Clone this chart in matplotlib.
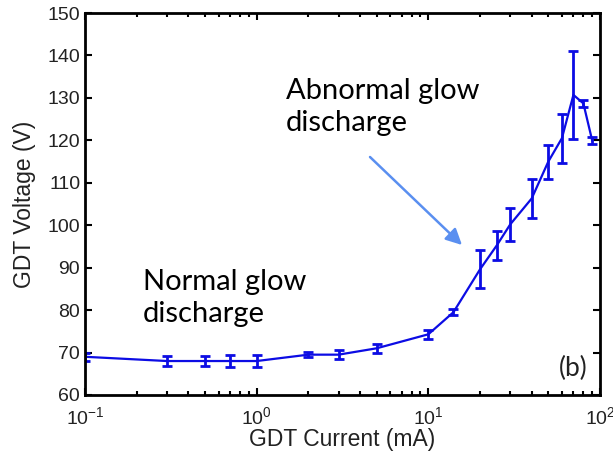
import matplotlib
matplotlib.use("Agg")
import matplotlib.pyplot as plt
import numpy as np

plt.rcParams['font.family'] = ['Liberation Sans', 'DejaVu Sans']
plt.rcParams['mathtext.fontset'] = 'custom'
plt.rcParams['mathtext.rm'] = 'Liberation Sans'
plt.rcParams['mathtext.it'] = 'Liberation Sans'

# GDT current (mA), mean voltage (V) and error half-width (V)
current_ma = [0.1, 0.3, 0.5, 0.7, 1.0, 2.0, 3.0, 5.0, 10, 14, 20, 25, 30, 40, 50, 60, 70, 80, 90]
voltage_v = [69.0, 68.0, 68.0, 68.0, 68.0, 69.5, 69.5, 71.0, 74.3, 79.5, 89.6, 95.2, 100.2, 106.3, 115.0, 120.5, 130.7, 128.7, 120.0]
voltage_err = [1.0, 1.2, 1.2, 1.4, 1.4, 0.6, 1.0, 1.1, 1.1, 0.7, 4.5, 3.4, 3.9, 4.5, 4.0, 5.8, 10.4, 0.9, 0.8]

y_ticks = [60, 70, 80, 90, 100, 110, 120, 130, 140, 150]

fig = plt.figure(figsize=(6.13, 4.58), dpi=100)
ax = fig.add_axes([0.1387, 0.1376, 0.9788 - 0.1387, 0.9716 - 0.1376])

ax.errorbar(current_ma, voltage_v, yerr=voltage_err, color='#0c0ce4', lw=1.6,
            elinewidth=2.0, capsize=3.5, capthick=2.0)

ax.set_xscale('log')
ax.set_xlim(0.1, 100)
ax.set_ylim(60, 150)
ax.set_yticks(y_ticks)

for s in ax.spines.values():
    s.set_linewidth(2.0)
ax.tick_params(which='both', direction='in', top=True, right=True,
               labelsize=14, width=1.5, colors='black')
ax.tick_params(which='major', length=5)
ax.tick_params(which='minor', length=3)
ax.tick_params(axis='x', pad=8)
for lab in ax.get_xticklabels() + ax.get_yticklabels():
    lab.set_color('#222222')

ax.set_xlabel('GDT Current (mA)', fontsize=16.5, labelpad=0, color='#222222')
ax.set_ylabel('GDT Voltage (V)', fontsize=16.5, labelpad=8, color='#222222')

note_font = ['Lato', 'DejaVu Sans']
ax.text(0.112, 0.329, 'Normal glow\ndischarge', transform=ax.transAxes,
        fontsize=21, family=note_font, va='top', ha='left', linespacing=1.28)
ax.text(0.39, 0.829, 'Abnormal glow\ndischarge', transform=ax.transAxes,
        fontsize=21, family=note_font, va='top', ha='left', linespacing=1.28)
ax.text(0.975, 0.07, '(b)', transform=ax.transAxes, fontsize=19,
        family=note_font, va='center', ha='right', color='#222222')

ax.annotate('', xy=(462 / 613, 1 - 245 / 458), xytext=(370 / 613, 1 - 157 / 458),
            xycoords='figure fraction', textcoords='figure fraction',
            arrowprops=dict(arrowstyle='-|>', color='#5a8ff0', lw=1.8,
                            mutation_scale=24, shrinkA=0, shrinkB=0))

fig.savefig('out.png', dpi=100)
